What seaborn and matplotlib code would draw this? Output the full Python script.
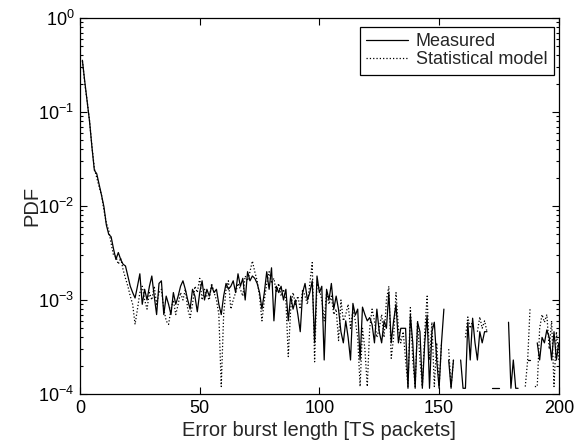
import numpy as np
import pandas as pd
import matplotlib
matplotlib.use("Agg")
import matplotlib.pyplot as plt
from matplotlib.ticker import LogLocator, NullLocator, FixedLocator
import seaborn as sns

nan = np.nan

burst_length = list(range(1, 201))

measured = [
    0.355, 0.21, 0.13, 0.079, 0.042, 0.024, 0.022, 0.017, 0.013, 0.0098,
    0.0063, 0.0050, 0.0047, 0.0035, 0.0027, 0.0032, 0.0027, 0.0024, 0.0023, 0.0018,
    0.0014, 0.0012, 0.00105, 0.0014, 0.0019, 0.0009, 0.0013, 0.0010, 0.0014, 0.0018,
    0.0011, 0.0007, 0.0015, 0.0016, 0.0007, 0.0011, 0.0009, 0.0007, 0.0012, 0.0009,
    0.0011, 0.0014, 0.0016, 0.0013, 0.0010, 0.0008, 0.0013, 0.0011, 0.00075, 0.0012,
    0.0016, 0.0010, 0.0013, 0.0011, 0.0014, 0.0012, 0.0013, 0.0009, 0.0007, 0.0011,
    0.0015, 0.0013, 0.0014, 0.0016, 0.0012, 0.0019, 0.0014, 0.0017, 0.0010, 0.0020,
    0.0016, 0.0018, 0.0017, 0.0015, 0.0012, 0.0008, 0.0012, 0.0020, 0.0013, 0.0022,
    0.0006, 0.0014, 0.0012, 0.0014, 0.0010, 0.0013, 0.0006, 0.0011, 0.0008, 0.0010,
    0.0007, 0.00046, 0.0012, 0.0015, 0.0010, 0.0012, 0.0016, 0.00035, 0.0018, 0.0012,
    0.0014, 0.00023, 0.0013, 0.0010, 0.0015, 0.0008, 0.0011, 0.00079, 0.00046, 0.00035,
    0.0006, 0.0004, 0.00023, 0.00092, 0.00069, 0.0008, 0.00023, 0.00084, 0.0007, 0.0006,
    0.00065, 0.00055, 0.00035, 0.0008, 0.00046, 0.00035, 0.0006, 0.0005, 0.0012, 0.00035,
    0.0006, 0.0009, 0.00035, 0.0005, 0.0005, 0.0005, 0.000115, 0.00069, 0.00035, 0.000115,
    0.00058, 0.00046, 0.000115, 0.00035, 0.00069, 0.000115, 0.00046, 0.00058, 0.00023, 0.000115,
    0.00035, 0.0008, nan, 0.00023, 0.000115, 0.00023, nan, nan, 0.00023, 0.000115,
    0.000115, 0.00058, 0.00023, 0.00064, 0.00035, 0.00023, 0.00046, 0.00035, 0.00046, 0.00046,
    nan, 0.000115, 0.000115, 0.000115, 0.000115, nan, nan, nan, 0.00058, 0.000115,
    0.00023, 0.000115, 0.000115, nan, nan, nan, 0.00023, 0.00023, nan, nan,
    0.00035, 0.00023, 0.0004, 0.00035, 0.00048, 0.0004, 0.00023, 0.00046, 0.00023, 0.00035,
]

model = [
    0.35, 0.20, 0.13, 0.080, 0.043, 0.025, 0.020, 0.016, 0.013, 0.0090,
    0.0066, 0.0055, 0.0040, 0.0030, 0.0029, 0.0024, 0.0028, 0.0021, 0.0017, 0.0014,
    0.0011, 0.0009, 0.00055, 0.0008, 0.0012, 0.0014, 0.0010, 0.0008, 0.0012, 0.0010,
    0.0014, 0.0009, 0.0012, 0.0013, 0.0008, 0.0006, 0.00055, 0.0008, 0.0010, 0.0007,
    0.0009, 0.0012, 0.0010, 0.0013, 0.0008, 0.00065, 0.0009, 0.0014, 0.0012, 0.0017,
    0.0010, 0.0013, 0.0011, 0.0010, 0.0015, 0.0012, 0.0010, 0.0007, 0.00012, 0.0007,
    0.0013, 0.0016, 0.0008, 0.0010, 0.0012, 0.0015, 0.0013, 0.0011, 0.0018, 0.0016,
    0.0020, 0.0026, 0.0020, 0.0016, 0.0011, 0.0006, 0.0010, 0.0015, 0.0020, 0.0015,
    0.0017, 0.0012, 0.0015, 0.0011, 0.0013, 0.0010, 0.00025, 0.0008, 0.0012, 0.0009,
    0.0011, 0.0008, 0.0013, 0.0011, 0.0009, 0.0015, 0.0025, 0.00022, 0.0015, 0.0013,
    0.0010, 0.0006, 0.0012, 0.0009, 0.0011, 0.0007, 0.0008, 0.00037, 0.0010, 0.0006,
    0.0007, 0.0009, 0.0005, 0.0008, 0.0006, 0.0004, 0.00012, 0.0005, 0.0003, 0.00012,
    0.0005, 0.0008, 0.0006, 0.0004, 0.0005, 0.0007, 0.0004, 0.0010, 0.0014, 0.00024,
    0.0004, 0.0012, 0.0005, 0.00035, 0.00046, 0.00023, 0.00012, 0.00083, 0.00023, 0.00012,
    0.0006, 0.00023, 0.00012, 0.00046, 0.0011, 0.00023, 0.00058, 0.00012, 0.00035, 0.00012,
    0.00035, nan, nan, 0.0003, 0.00012, 0.00023, nan, nan, nan, nan,
    0.0004, 0.00066, 0.0005, 0.0006, nan, 0.00046, 0.00066, 0.0005, 0.0006, 0.00046,
    nan, nan, nan, nan, nan, nan, nan, nan, nan, nan,
    nan, nan, nan, nan, nan, 0.00012, 0.00023, 0.00083, nan, 0.00012,
    0.00012, 0.0005, 0.0007, 0.00058, 0.0007, 0.0003, 0.0006, 0.00012, 0.00046, 0.00023,
]

series_labels = ["Measured", "Statistical model"]
x_ticks = [0, 50, 100, 150, 200]

sns.set_theme(style="ticks")
plt.rcParams["font.family"] = ["Liberation Sans", "DejaVu Sans"]
plt.rcParams["mathtext.fontset"] = "custom"
plt.rcParams["mathtext.rm"] = "Liberation Sans"
plt.rcParams["mathtext.it"] = "Liberation Sans:italic"
plt.rcParams["mathtext.bf"] = "Liberation Sans:bold"

fig = plt.figure(figsize=(5.8, 4.43), dpi=100)
fig.patch.set_facecolor("white")
ax = fig.add_axes([80 / 580, 1 - 394 / 443, 478.8 / 580, 376 / 443])


def with_segments(values):
    v = np.asarray(values, dtype=float)
    d = pd.DataFrame({"x": burst_length, "y": v, "seg": np.cumsum(np.isnan(v))})
    return d.dropna()


styles = [dict(linestyle="-", linewidth=0.9), dict(linestyle=":", linewidth=0.9)]
for vals, lab, st in zip([measured, model], series_labels, styles):
    sns.lineplot(data=with_segments(vals), x="x", y="y", units="seg", estimator=None,
                 sort=False, ax=ax, color="black", label=lab, legend=False, **st)

ax.set_yscale("log")
ax.set_ylim(1e-4, 1)
ax.set_xlim(0, 200)
ax.xaxis.set_major_locator(FixedLocator(x_ticks))
ax.xaxis.set_minor_locator(NullLocator())
ax.yaxis.set_major_locator(LogLocator(base=10, numticks=10))
ax.yaxis.set_minor_locator(LogLocator(base=10, subs=np.arange(2, 10), numticks=20))

for s in ax.spines.values():
    s.set_visible(True)
    s.set_color("black")
    s.set_linewidth(0.9)

ax.tick_params(which="both", direction="in", top=True, right=True, colors="black",
               labelsize=13, width=0.8)
ax.tick_params(which="major", length=5, pad=4)
ax.tick_params(which="minor", length=2.5)

ax.set_xlabel("Error burst length [TS packets]", fontsize=14.5, labelpad=3)
ax.set_ylabel("PDF", fontsize=14.5, labelpad=-2)

handles, labels = ax.get_legend_handles_labels()
uniq = {}
for h, l in zip(handles, labels):
    if l in series_labels and l not in uniq:
        uniq[l] = h
leg = ax.legend([uniq[l] for l in series_labels], series_labels,
                loc="upper right", bbox_to_anchor=(1 - 5 / 478.8, 1 - 9 / 376),
                borderaxespad=0, fancybox=False, framealpha=1, edgecolor="black",
                fontsize=13, handlelength=2.3, handletextpad=0.45,
                labelspacing=0.05, borderpad=0.35)
leg.get_frame().set_linewidth(0.9)

fig.savefig("out.png", dpi=100, facecolor="white")
